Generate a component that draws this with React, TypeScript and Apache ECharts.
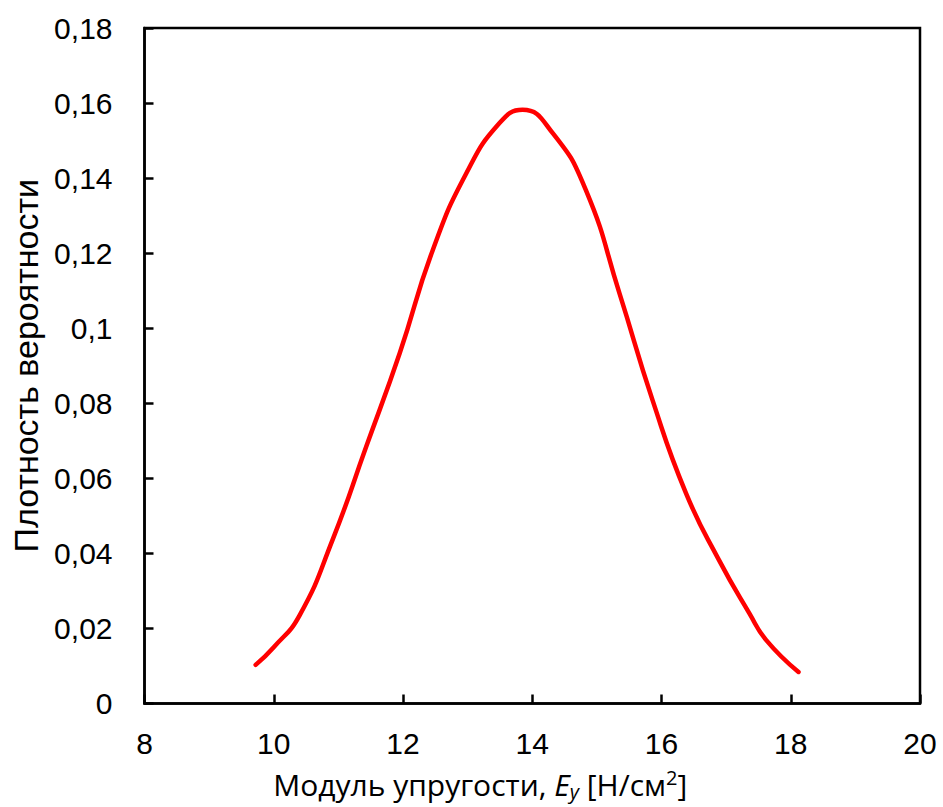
import React, { useEffect, useRef } from "react";
import * as echarts from "echarts";

const xValues = [9.72, 10.0, 10.4, 10.91, 11.43, 11.95, 12.46, 12.98, 13.49, 13.85, 14.32, 14.83, 15.35, 15.86, 16.38, 16.89, 17.36, 17.62, 18.12];
const densityValues = [0.0103, 0.015, 0.0235, 0.0436, 0.0684, 0.0934, 0.1208, 0.1413, 0.1546, 0.1582, 0.1519, 0.1368, 0.1093, 0.0809, 0.056, 0.0382, 0.024, 0.0169, 0.0084];

const xTitle = "Модуль упругости, ";
const yTitle = "Плотность вероятности";

export default function App() {
  const ref = useRef<HTMLDivElement>(null);
  useEffect(() => {
    const chart = echarts.init(ref.current!, null, { renderer: "svg" });
    const font = "'Liberation Sans', Arial, sans-serif";
    const tfont = "'Open Sans', 'Liberation Sans', sans-serif";
    chart.setOption({
      animation: false,
      backgroundColor: "#fff",
      grid: {
        left: 144.5,
        top: 28,
        right: 23,
        bottom: 103.5,
        show: true,
        borderColor: "#000",
        borderWidth: 2.5,
        containLabel: false,
      },
      xAxis: {
        type: "value",
        min: 8,
        max: 20,
        interval: 2,
        axisLine: { show: true, lineStyle: { color: "#000", width: 2.5 } },
        axisTick: { show: true, inside: true, length: 9, lineStyle: { color: "#000", width: 2.5 } },
        splitLine: { show: false },
        axisLabel: { color: "#000", fontSize: 30, fontFamily: font, margin: 25 },
        name: `{n|${xTitle}}{e|E}{s|y}{n| [Н/см}{p|2}{n|]}`,
        nameLocation: "middle",
        nameGap: 64,
        nameTextStyle: {
          padding: [0, 104, 0, 0],
          rich: {
            n: { fontSize: 30, fontFamily: tfont, color: "#000" },
            e: { fontSize: 30, fontFamily: tfont, fontStyle: "italic", color: "#000" },
            s: { fontSize: 20, fontFamily: tfont, fontStyle: "italic", color: "#000", verticalAlign: "bottom", padding: [14, 0, 0, 0] },
            p: { fontSize: 20, fontFamily: tfont, color: "#000", verticalAlign: "top", padding: [0, 0, 12, 0] },
          },
        },
      },
      yAxis: {
        type: "value",
        min: 0,
        max: 0.18,
        interval: 0.02,
        axisLine: { show: true, lineStyle: { color: "#000", width: 2.5 } },
        axisTick: { show: true, inside: true, length: 9, lineStyle: { color: "#000", width: 2.5 } },
        splitLine: { show: false },
        axisLabel: {
          color: "#000",
          fontSize: 30,
          fontFamily: font,
          margin: 32,
          formatter: (v: number) => String(+v.toFixed(2)).replace(".", ","),
        },
        name: yTitle,
        nameLocation: "middle",
        nameGap: 100,
        nameTextStyle: { color: "#000", fontSize: 34, fontFamily: font },
      },
      series: [
        {
          type: "line",
          data: xValues.map((x, i) => [x, densityValues[i]]),
          smooth: 0.5,
          symbol: "none",
          lineStyle: { color: "#ff0000", width: 4.5, cap: "round", join: "round" },
        },
      ],
    });
    return () => chart.dispose();
  }, []);
  return <div ref={ref} style={{ width: 943, height: 807, position: "absolute", left: 0, top: 0 }} />;
}
